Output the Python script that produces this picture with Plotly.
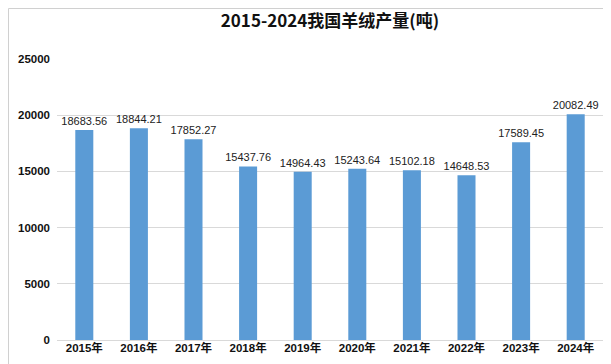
import plotly.graph_objects as go

years = ["2015年", "2016年", "2017年", "2018年", "2019年", "2020年", "2021年", "2022年", "2023年", "2024年"]
output = [18683.56, 18844.21, 17852.27, 15437.76, 14964.43, 15243.64, 15102.18, 14648.53, 17589.45, 20082.49]
y_ticks = [0, 5000, 10000, 15000, 20000, 25000]

W, H = 611, 364
ml, mr, mt, mb = 49, 16, 51, 32
pw, ph = W - ml - mr, H - mt - mb

fig = go.Figure()
fig.add_trace(go.Bar(
    x=years, y=output,
    marker=dict(color="#5B9BD5", line=dict(width=0)),
    text=[f"{v:.2f}" for v in output],
    textposition="outside",
    constraintext="none",
    textfont=dict(size=11, color="#222222", family="Liberation Sans, Noto Sans CJK SC"),
    cliponaxis=False,
    hoverinfo="skip",
))

fig.update_layout(
    width=W, height=H,
    margin=dict(l=ml, r=mr, t=mt, b=mb, autoexpand=False),
    paper_bgcolor="white", plot_bgcolor="white",
    bargap=0.67,
    showlegend=False,
    title=dict(text="<b>2015-2024我国羊绒产量(吨)</b>", x=0.5, xanchor="center",
               xref="paper", yref="container", y=0.965, yanchor="middle",
               font=dict(size=17, color="#111111", family="Noto Sans CJK SC")),
    font=dict(family="Liberation Sans, Noto Sans CJK SC", color="#111111"),
    xaxis=dict(
        automargin=False,
        tickfont=dict(size=11.5, color="#111111", family="Liberation Sans, Noto Sans CJK SC"),
        tickvals=years, ticktext=[f"<b>{y}</b>" for y in years],
        showline=True, linecolor="#D9D9D9", linewidth=1,
        ticks="", showgrid=False, ticklabelstandoff=-3,
    ),
    yaxis=dict(
        automargin=False,
        range=[0, 25000], tickvals=y_ticks, ticktext=[f"<b>{v}</b>" for v in y_ticks],
        tickfont=dict(size=11.5, color="#111111", family="Liberation Sans"),
        showgrid=True, gridcolor="#D9D9D9", gridwidth=1,
        zeroline=False, showline=False, ticks="", ticklabelstandoff=6,
    ),
    shapes=[dict(type="rect", xref="paper", yref="paper",
                 x0=(-ml + 0.5) / pw, x1=(pw + mr - 1.5) / pw,
                 y0=(-mb + 1.5) / ph, y1=(ph + mt - 0.5) / ph,
                 line=dict(color="#D0D0D0", width=1), layer="below")],
)

fig.write_html("out.html")
